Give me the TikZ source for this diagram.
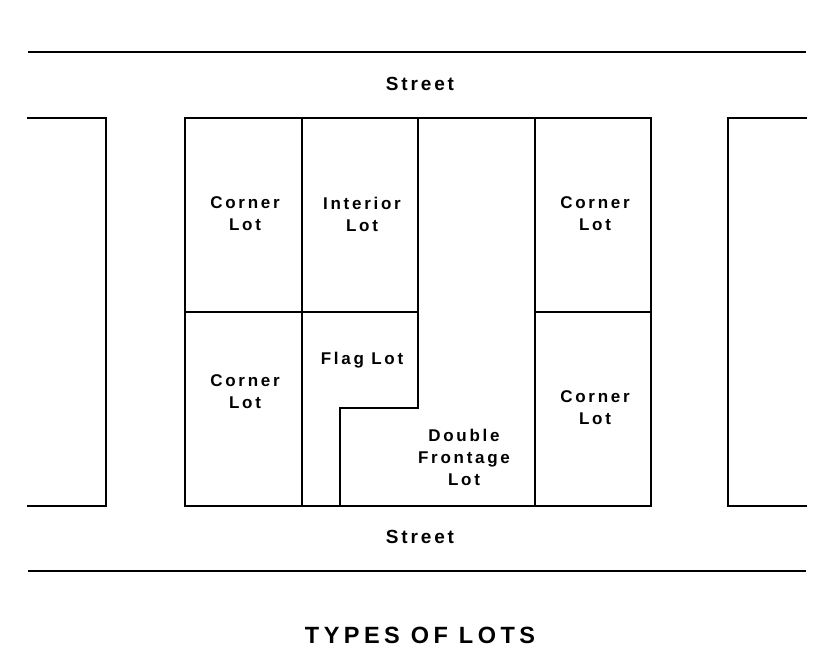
\documentclass[tikz,border=0pt]{standalone}
\usepackage{fontspec}
\setmainfont{Liberation Sans}
\newfontfamily\lotfont{Liberation Sans}[LetterSpace=16]
\newfontfamily\streetfont{Liberation Sans}[LetterSpace=15]
\newfontfamily\titlefont{Liberation Sans}[LetterSpace=19]
\tikzset{
  lotline/.style={line width=2.8pt, line cap=rect, line join=miter},
  streetline/.style={line width=2.8pt},
  lotlabel/.style={align=center, inner sep=0pt, font=\lotfont\bfseries\fontsize{17pt}{22pt}\selectfont},
  streetlabel/.style={inner sep=0pt, font=\streetfont\bfseries\fontsize{19pt}{22pt}\selectfont},
  titlelabel/.style={inner sep=0pt, font=\titlefont\bfseries\fontsize{23.5pt}{26pt}\selectfont}
}
\begin{document}
\begin{tikzpicture}[x=1pt,y=-1pt]
\useasboundingbox (0,0) rectangle (831,672);
% streets
\draw[streetline] (28,52) -- (806,52);
\draw[streetline] (28,571) -- (806,571);
% partial blocks
\draw[lotline] (28,118) -- (106,118) -- (106,506) -- (28,506);
\draw[lotline] (806,118) -- (728,118) -- (728,506) -- (806,506);
% main block
\draw[lotline] (185,118) rectangle (651,506);
\draw[lotline] (302,118) -- (302,506);
\draw[lotline] (535,118) -- (535,506);
\draw[lotline] (185,312) -- (418,312);
\draw[lotline] (535,312) -- (651,312);
\draw[lotline] (418,118) -- (418,408) -- (340,408) -- (340,506);
% labels
\node[streetlabel] (st1) at (420,84) {Street};
\node[streetlabel] (st2) at (420,537) {Street};
\node[lotlabel] (cl1) at (245,214) {Corner\\Lot};
\node[lotlabel] (il) at (362,214) {Interior\\Lot};
\node[lotlabel] (cl2) at (595,214) {Corner\\Lot};
\node[lotlabel] (cl3) at (245,392) {Corner\\Lot};
\node[lotlabel] (fl) at (362,360) {Flag Lot};
\node[lotlabel] (cl4) at (595,408) {Corner\\Lot};
\node[lotlabel] (df) at (464,457) {Double\\Frontage\\Lot};
\node[titlelabel] (title) at (420,635) {TYPES OF LOTS};
\end{tikzpicture}
\end{document}
